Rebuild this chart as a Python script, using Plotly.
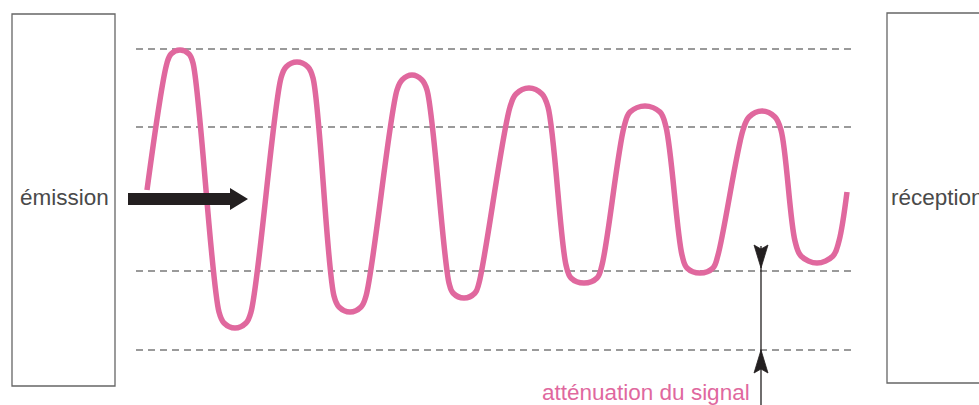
import plotly.graph_objects as go

# ---- data (diagram units: x to the right, y downward, 1 unit = 1 px) ----
# points (start, then 5 points around each crest/trough, end)
wave_x = [147,
          167, 171, 180, 189, 193,
          219, 224, 235, 246, 251,
          281, 286, 297, 308, 313,
          334, 339, 350, 361, 366,
          397, 402, 412, 422, 427,
          449, 453, 464, 475, 479,
          510, 516, 529, 542, 548,
          566, 571, 584, 597, 602,
          624, 630, 645, 660, 666,
          682, 687, 700, 713, 718,
          743, 749, 762, 775, 781,
          795, 801, 817, 833, 839,
          847]
wave_y = [190,
          63, 54, 50, 54, 63,
          312, 323, 328, 323, 312,
          78, 67, 62, 67, 78,
          296, 307, 312, 307, 296,
          90, 80, 75, 80, 90,
          283, 293, 298, 293, 283,
          107, 94, 88, 94, 107,
          265, 278, 283, 278, 265,
          127, 112, 106, 112, 127,
          255, 268, 273, 268, 255,
          130, 117, 111, 117, 130,
          241, 256, 263, 256, 241,
          192]
guide_levels = [49, 127, 271, 350]
labels = ["émission", "réception", "atténuation du signal"]

PINK = "#e0689e"
DARK = "#231f20"
FONT = "Liberation Sans, Arial, Helvetica, sans-serif"

fig = go.Figure()

# dashed guide lines
for lvl in guide_levels:
    fig.add_shape(type="line", x0=136, x1=853, y0=lvl, y1=lvl,
                  line=dict(color="#7a7a7a", width=1.6, dash="7px,5px"), layer="below")

# boxes
fig.add_shape(type="rect", x0=12, x1=115, y0=14, y1=386,
              line=dict(color="#666666", width=1.3))
fig.add_shape(type="rect", x0=887, x1=1000, y0=13, y1=383,
              line=dict(color="#666666", width=1.3))

# signal wave
fig.add_trace(go.Scatter(x=wave_x, y=wave_y, mode="lines",
                         line=dict(color=PINK, width=5.5, shape="spline", smoothing=1.0),
                         hoverinfo="skip", showlegend=False))

# big transmission arrow
fig.add_shape(type="path",
              path="M 128 193 L 230 193 L 230 188 L 248 199 L 230 210 L 230 205 L 128 205 Z",
              fillcolor=DARK, line=dict(color=DARK, width=0))

# attenuation arrow
fig.add_shape(type="line", x0=761, x1=761, y0=246, y1=405,
              line=dict(color=DARK, width=1.3))
fig.add_shape(type="path", path="M 754 245 L 761 249 L 768 245 L 761 268 Z",
              fillcolor=DARK, line=dict(color=DARK, width=0.8))
fig.add_shape(type="path", path="M 754 373 L 761 369 L 768 373 L 761 350 Z",
              fillcolor=DARK, line=dict(color=DARK, width=0.8))

# labels
fig.add_annotation(x=64, y=197, text=labels[0], showarrow=False,
                   font=dict(family=FONT, size=22.5, color="#4a4a4a"),
                   xanchor="center", yanchor="middle")
fig.add_annotation(x=889, y=197, text=labels[1], showarrow=False,
                   font=dict(family=FONT, size=22.5, color="#4a4a4a"),
                   xanchor="left", yanchor="middle")
fig.add_annotation(x=646, y=392, text=labels[2], showarrow=False,
                   font=dict(family=FONT, size=22.5, color=PINK),
                   xanchor="center", yanchor="middle")

fig.update_layout(
    width=979, height=405,
    margin=dict(l=0, r=0, t=0, b=0),
    paper_bgcolor="white", plot_bgcolor="white",
    xaxis=dict(range=[0, 979], visible=False, fixedrange=True),
    yaxis=dict(range=[405, 0], visible=False, fixedrange=True),
    showlegend=False,
)

fig.write_html("out.html", config={"displayModeBar": False},
               post_script="document.body.style.margin='0';document.body.style.overflow='hidden';")
